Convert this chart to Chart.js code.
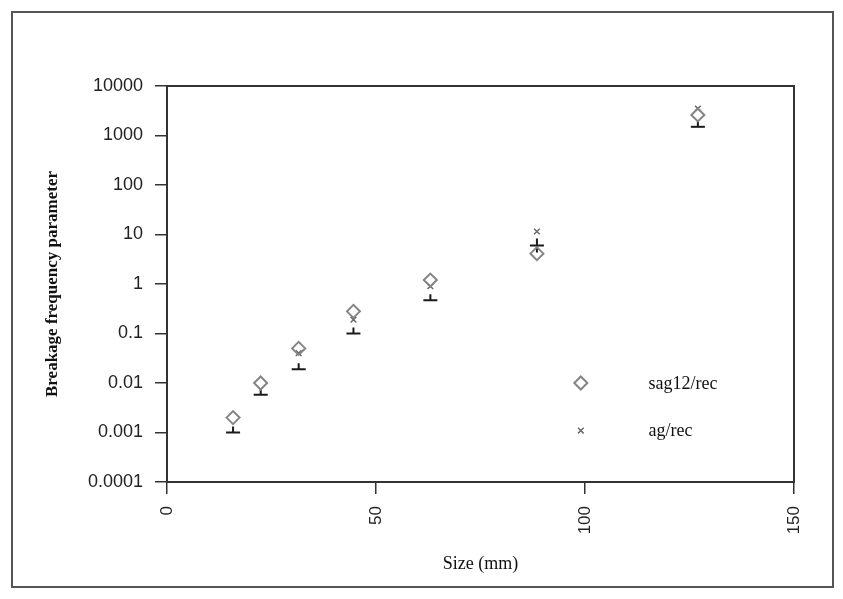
<!DOCTYPE html>
<html lang="en">
<head>
    <meta charset="UTF-8">
    <script src="https://cdn.jsdelivr.net/npm/chart.js"></script>
    <title>Breakage frequency</title>
    <style>
        body { margin: 0; background: #fff; }
        #frame { position: absolute; left: 11px; top: 11px; width: 819px; height: 573px; border: 2px solid #555; }
        #chart { position: absolute; left: 0; top: 0; width: 843px; height: 599px; }
    </style>
</head>
<body>
    <div id="frame"></div>
    <div id="chart">
        <canvas id="breakChart"></canvas>
    </div>
    <script>
        // values
        const sizes = [15.8, 22.4, 31.5, 44.6, 63, 88.5, 127]
        const sag12 = [0.002, 0.01, 0.05, 0.28, 1.2, 4.1, 2600]
        const ag = [null, null, 0.04, 0.19, 0.9, 11.5, 3500]
        const lower = [0.001, 0.0058, 0.019, 0.1, 0.47, 6.0, 1500]
        const xTicks = [0, 50, 100, 150]
        const yTicks = [0.0001, 0.001, 0.01, 0.1, 1, 10, 100, 1000, 10000]
        const yTickLabels = ['0.0001', '0.001', '0.01', '0.1', '1', '10', '100', '1000', '10000']
        const seriesNames = ['sag12/rec', 'ag/rec']

        // the little "⊥" marker of the third (unnamed) series
        const tee = document.createElement('canvas')
        tee.width = 16
        tee.height = 16
        const tc = tee.getContext('2d')
        tc.strokeStyle = '#1a1a1a'
        tc.lineWidth = 2
        tc.beginPath()
        tc.moveTo(1, 8); tc.lineTo(15, 8)
        tc.moveTo(8, 2); tc.lineTo(8, 8)
        tc.stroke()
        const lowerMarks = ['tee', 'tee', 'tee', 'tee', 'tee', 'cross', 'tee']

        const toPoints = arr => sizes.map((s, i) => ({ x: s, y: arr[i] }))

        // box round the plot area
        const plotFrame = {
            id: 'plotFrame',
            afterDatasetsDraw(chart) {
                const a = chart.chartArea
                const c = chart.ctx
                c.save()
                c.strokeStyle = '#333'
                c.lineWidth = 2
                c.strokeRect(a.left, a.top, a.right - a.left, a.bottom - a.top)
                c.restore()
            }
        }

        // legend sitting inside the plot, like the original
        const insideLegend = {
            id: 'insideLegend',
            afterDraw(chart) {
                const a = chart.chartArea
                const w = a.right - a.left
                const h = a.bottom - a.top
                const c = chart.ctx
                const rows = [0.75, 0.87]
                seriesNames.forEach((name, i) => {
                    const ds = chart.data.datasets[i]
                    const x = a.left + 0.66 * w
                    const y = a.top + rows[i] * h
                    c.save()
                    c.strokeStyle = ds.borderColor
                    c.fillStyle = 'rgba(0,0,0,0)'
                    c.lineWidth = ds.borderWidth
                    Chart.helpers.drawPoint(c, { pointStyle: ds.pointStyle, radius: ds.pointRadius, rotation: 0, borderWidth: ds.borderWidth }, x, y)
                    c.fillStyle = '#111'
                    c.font = '18px "Liberation Serif"'
                    c.textBaseline = 'middle'
                    c.textAlign = 'left'
                    c.fillText(name, a.left + 0.768 * w, y + 1)
                    c.restore()
                })
            }
        }

        const ctx = document.getElementById('breakChart').getContext('2d')
        const breakChart = new Chart(ctx, {
            type: 'scatter',
            data: {
                datasets: [
                    {
                        label: seriesNames[0],
                        data: toPoints(sag12),
                        pointStyle: 'rectRot',
                        pointRadius: 6.5,
                        borderColor: '#858585',
                        backgroundColor: 'rgba(0,0,0,0)',
                        borderWidth: 2
                    },
                    {
                        label: seriesNames[1],
                        data: toPoints(ag),
                        pointStyle: 'crossRot',
                        pointRadius: 4,
                        borderColor: '#6a6a6a',
                        backgroundColor: 'rgba(0,0,0,0)',
                        borderWidth: 1.5
                    },
                    {
                        label: '',
                        data: toPoints(lower),
                        pointStyle: c => lowerMarks[c.dataIndex] === 'tee' ? tee : 'cross',
                        pointRadius: 7,
                        borderColor: '#1a1a1a',
                        backgroundColor: 'rgba(0,0,0,0)',
                        borderWidth: 2
                    }
                ]
            },
            options: {
                responsive: true,
                maintainAspectRatio: false,
                animation: false,
                layout: { padding: { top: 86, right: 49, left: 0, bottom: 0 } },
                plugins: {
                    legend: { display: false },
                    tooltip: { enabled: false }
                },
                scales: {
                    x: {
                        type: 'linear',
                        min: 0,
                        max: 150,
                        afterBuildTicks: s => { s.ticks = xTicks.map(v => ({ value: v })) },
                        afterFit: s => { s.height = 117 },
                        grid: { drawOnChartArea: false, tickLength: 12, color: '#333', lineWidth: 1.5 },
                        border: { display: false },
                        ticks: {
                            minRotation: 90,
                            maxRotation: 90,
                            padding: 12,
                            color: '#222',
                            font: { family: '"Liberation Sans"', size: 17 }
                        },
                        title: {
                            display: true,
                            text: 'Size (mm)',
                            color: '#111',
                            font: { family: '"Liberation Serif"', size: 18 },
                            padding: { top: 4, bottom: 24 }
                        }
                    },
                    y: {
                        type: 'logarithmic',
                        min: 0.0001,
                        max: 10000,
                        afterBuildTicks: s => { s.ticks = yTicks.map(v => ({ value: v })) },
                        afterFit: s => { s.width = 167 },
                        grid: { drawOnChartArea: false, tickLength: 12, color: '#333', lineWidth: 1.5 },
                        border: { display: false },
                        ticks: {
                            padding: 12,
                            color: '#222',
                            font: { family: '"Liberation Sans"', size: 18 },
                            callback: (v, i) => yTickLabels[i]
                        },
                        title: {
                            display: true,
                            text: 'Breakage frequency parameter',
                            color: '#111',
                            font: { family: '"Liberation Serif"', size: 17, weight: 'bold' },
                            padding: { top: 42, bottom: 0 }
                        }
                    }
                }
            },
            plugins: [plotFrame, insideLegend]
        })
    </script>
</body>
</html>
